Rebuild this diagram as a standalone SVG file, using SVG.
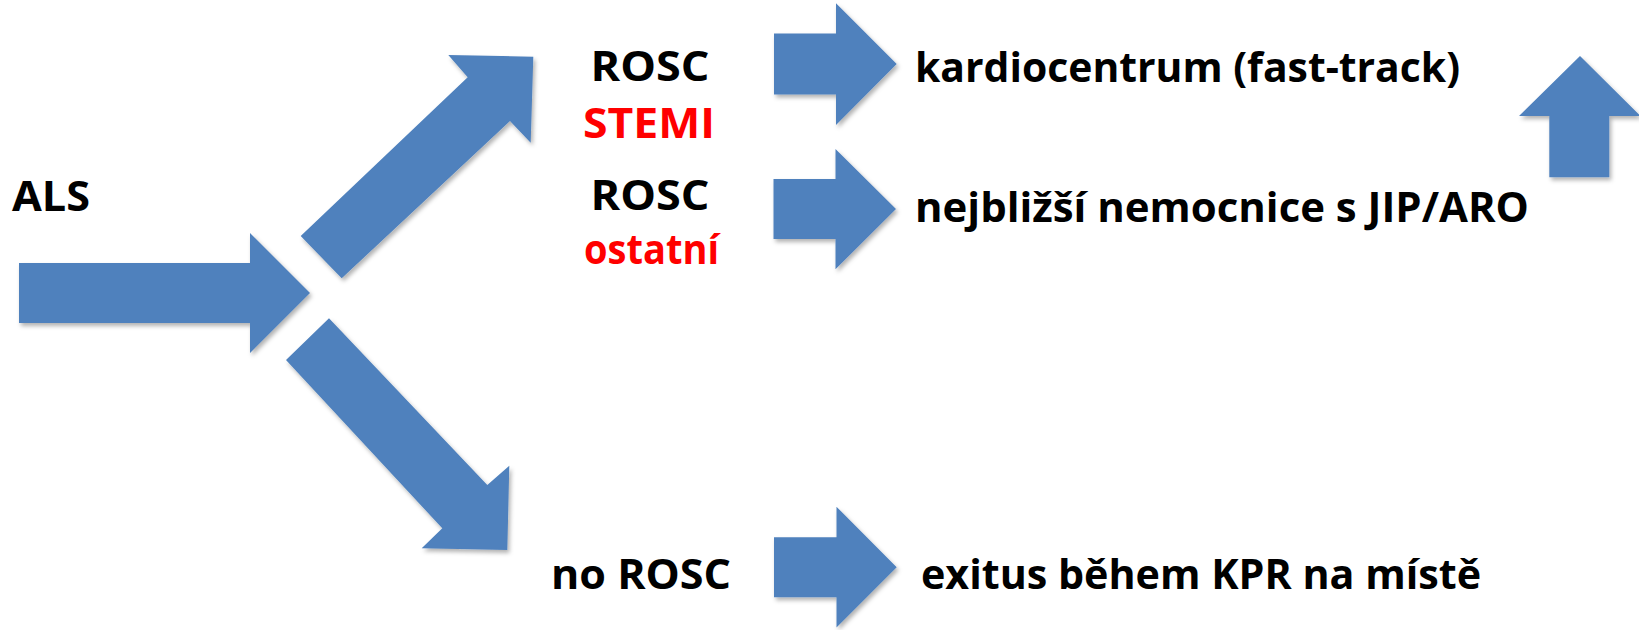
<svg xmlns="http://www.w3.org/2000/svg" width="1639" height="630" viewBox="0 0 1639 630">
<defs>
<filter id="sh" x="-10%" y="-10%" width="130%" height="130%">
<feDropShadow dx="2" dy="3" stdDeviation="2" flood-color="#000" flood-opacity="0.3"/>
</filter>
<style>
.arr{fill:#4F81BD;filter:url(#sh);}
.t{font-family:"Open Sans","Noto Sans","DejaVu Sans",sans-serif;font-weight:700;font-size:42px;fill:#000;}
.r{fill:#FF0000;}
</style>
</defs>
<rect width="1639" height="630" fill="#FFFFFF"/>
<g id="connectors">
<polygon class="arr" points="19,263 250,263 250,233 310,293 250,353 250,323 19,323"/>
<polygon class="arr" points="300.7,236 467.7,77.3 448.3,55 533.3,56.7 530.7,142.7 510,121 341.7,278.3"/>
<polygon class="arr" points="329,318.3 487.3,485 509.3,465.7 507.3,550 421.7,548.3 442.3,528.3 286,360"/>
<polygon class="arr" points="774,33.5 836,33.5 836,3.3 896.7,64 836,125 836,94.5 774,94.5"/>
<polygon class="arr" points="773.5,179 835.5,179 835.5,149 896,209 835.5,269.3 835.5,239 773.5,239"/>
<polygon class="arr" points="774,537.3 836.5,537.3 836.5,506.7 896.7,567.3 836.5,627.5 836.5,597.3 774,597.3"/>
<polygon class="arr" points="1580,56 1640.5,116 1609.3,116 1609.3,177.3 1549.3,177.3 1549.3,116 1519,116"/>
</g>
<g id="node-als"><text class="t" x="12" y="211" textLength="78" lengthAdjust="spacingAndGlyphs">ALS</text></g>
<g id="node-rosc-stemi">
<text class="t" x="650" y="81" text-anchor="middle" textLength="119" lengthAdjust="spacingAndGlyphs">ROSC</text>
<text class="t r" x="649" y="138" text-anchor="middle" textLength="132" lengthAdjust="spacingAndGlyphs">STEMI</text>
</g>
<g id="node-rosc-ostatni">
<text class="t" x="650" y="210" text-anchor="middle" textLength="119" lengthAdjust="spacingAndGlyphs">ROSC</text>
<text class="t r" x="651.5" y="264" text-anchor="middle" textLength="135" lengthAdjust="spacingAndGlyphs">ostatní</text>
</g>
<g id="node-no-rosc"><text class="t" x="551" y="589" textLength="180" lengthAdjust="spacingAndGlyphs">no ROSC</text></g>
<g id="node-kardiocentrum"><text class="t" x="915" y="82" textLength="545" lengthAdjust="spacingAndGlyphs">kardiocentrum (fast-track)</text></g>
<g id="node-nemocnice"><text class="t" x="915" y="222" textLength="614" lengthAdjust="spacingAndGlyphs">nejbližší nemocnice s JIP/ARO</text></g>
<g id="node-exitus"><text class="t" x="921" y="589" textLength="560" lengthAdjust="spacingAndGlyphs">exitus během KPR na místě</text></g>
</svg>
